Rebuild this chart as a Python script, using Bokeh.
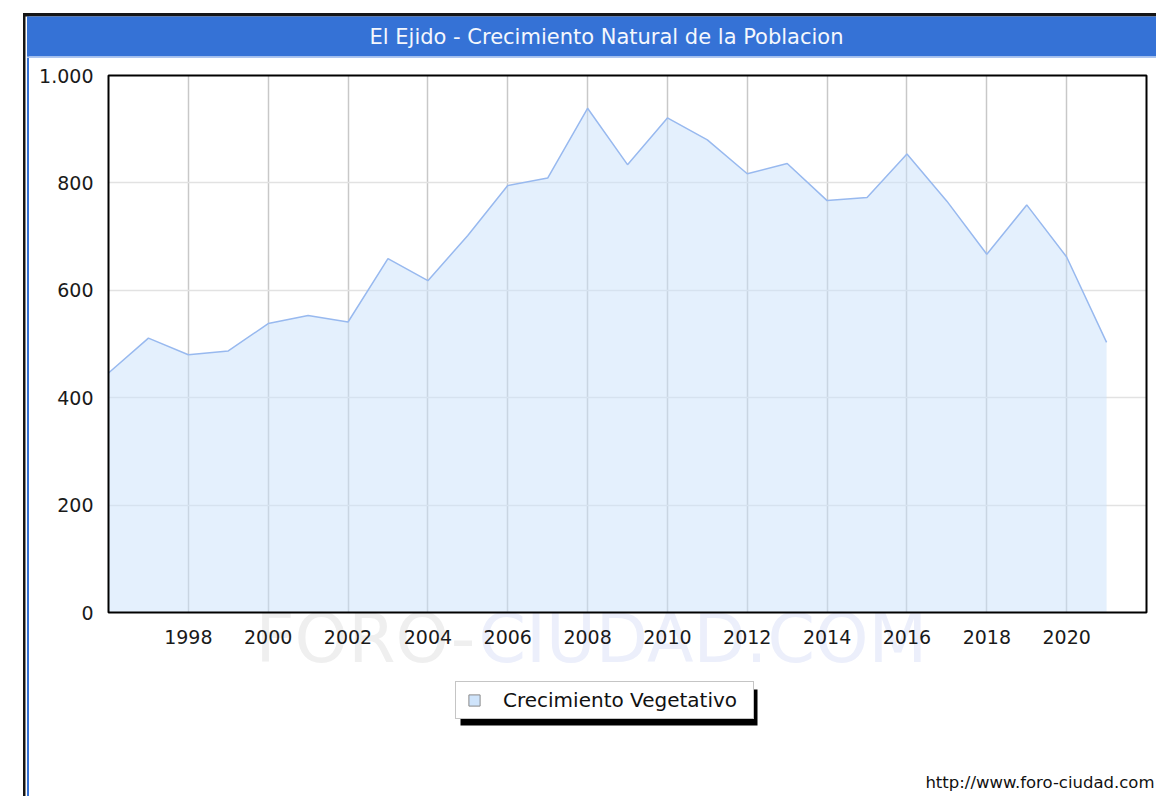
from bokeh.plotting import figure
from bokeh.models import Range1d, FixedTicker, BoxAnnotation, Label, Legend, LegendItem, Grid
from bokeh.embed import file_html
from bokeh.resources import INLINE

# ---------------- data ----------------
title_text = "El Ejido - Crecimiento Natural de la Poblacion"
series_name = "Crecimiento Vegetativo"
watermark_a = "FORO-"
watermark_b = "CIUDAD.COM"
url_text = "http://www.foro-ciudad.com"

years = [1996, 1997, 1998, 1999, 2000, 2001, 2002, 2003, 2004, 2005, 2006, 2007, 2008,
         2009, 2010, 2011, 2012, 2013, 2014, 2015, 2016, 2017, 2018, 2019, 2020, 2021]
values = [446, 511, 480, 487, 538, 553, 541, 659, 618, 702, 795, 809, 939,
          834, 921, 880, 817, 836, 767, 773, 854, 766, 667, 759, 662, 503]

x_ticks = [1998, 2000, 2002, 2004, 2006, 2008, 2010, 2012, 2014, 2016, 2018, 2020]
y_ticks = [0, 200, 400, 600, 800, 1000]
y_tick_labels = ["0", "200", "400", "600", "800", "1.000"]
x_lim = [1996, 2022]
y_lim = [0, 1000]

# ---------------- geometry (pixels) ----------------
W, H = 1156, 796
FL, FR, FT, FB = 108, 1146, 75, 612   # plotting area inside the canvas
FONT = "DejaVu Sans"

kx = (FR - FL) / (x_lim[1] - x_lim[0])
ky = (FB - FT) / (y_lim[1] - y_lim[0])
x_range = Range1d(x_lim[0] - FL / kx, x_lim[1] + (W - FR) / kx)
y_range = Range1d(y_lim[0] - (H - FB) / ky, y_lim[1] + FT / ky)

p = figure(width=W, height=H, output_backend="svg", toolbar_location=None,
           x_range=x_range, y_range=y_range,
           min_border_left=0, min_border_right=0, min_border_top=0, min_border_bottom=0,
           background_fill_color="white", border_fill_color="white",
           outline_line_color=None)

# pixel helper ranges for decorations (image coordinates, y downward)
p.extra_x_ranges = {"px": Range1d(0, W)}
p.extra_y_ranges = {"py": Range1d(H, 0)}

# ---------------- grids ----------------
has_cross = "cross_bounds" in Grid.properties()
if has_cross:
    p.xgrid.ticker = FixedTicker(ticks=x_ticks)
    p.xgrid.cross_bounds = tuple(y_lim)
    p.xgrid.grid_line_color = "#c8c8c8"
    p.xgrid.grid_line_width = 1.5
    p.ygrid.ticker = FixedTicker(ticks=y_ticks[1:-1])
    p.ygrid.cross_bounds = tuple(x_lim)
    p.ygrid.grid_line_color = "#e2e2e2"
    p.ygrid.grid_line_width = 1.5
else:
    p.xgrid.grid_line_color = None
    p.ygrid.grid_line_color = None
    p.segment(x0=x_ticks, x1=x_ticks, y0=y_lim[0], y1=y_lim[1],
              line_color="#c8c8c8", line_width=1.5)
    p.segment(x0=x_lim[0], x1=x_lim[1], y0=y_ticks[1:-1], y1=y_ticks[1:-1],
              line_color="#e2e2e2", line_width=1.5)

# ---------------- data marks ----------------
p.varea(x=years, y1=0, y2=values, fill_color="#cae2fb", fill_alpha=0.5)
p.line(x=years, y=values, line_color="#98b9ef", line_width=1.5)
sq = p.scatter(x=years, y=values, marker="square", size=10, fill_color="#cfe4fb",
               line_color="#8a8a8a", line_width=1, visible=False)

# plot-area outline
p.add_layout(BoxAnnotation(left=x_lim[0], right=x_lim[1], bottom=y_lim[0], top=y_lim[1],
                           fill_alpha=0, line_color="black", line_width=2, line_alpha=1))

# ---------------- axes ----------------
p.xaxis.fixed_location = y_lim[0]
p.yaxis.fixed_location = x_lim[0]
p.xaxis.ticker = FixedTicker(ticks=x_ticks)
p.yaxis.ticker = FixedTicker(ticks=y_ticks)
p.yaxis.major_label_overrides = dict(zip(y_ticks, y_tick_labels))
for ax in (p.xaxis, p.yaxis):
    ax.axis_line_color = None
    ax.major_tick_line_color = None
    ax.minor_tick_line_color = None
    ax.major_tick_out = 0
    ax.major_tick_in = 0
    ax.major_label_text_font = FONT
    ax.major_label_text_font_size = "19px"
    ax.major_label_text_color = "#1a1a1a"
p.xaxis.major_label_standoff = 17
p.yaxis.major_label_standoff = 15


def box(l, r, t, b, color, alpha=1.0):
    return BoxAnnotation(left=l, right=r, top=t, bottom=b,
                         x_range_name="px", y_range_name="py",
                         fill_color=color, fill_alpha=alpha,
                         line_alpha=0, line_width=0)


# ---------------- frame decorations ----------------
p.add_layout(box(22.5, 25, 13, H + 5, "#151515"))
p.add_layout(box(26.5, 28.5, 16, H + 5, "#3572d6"))
p.add_layout(box(22.5, W + 5, 12.5, 16, "#151515"))
p.add_layout(box(26.5, W + 5, 16, 56, "#3572d6"))
p.add_layout(box(26.5, W + 5, 56, 57.5, "#adc6f0"))

p.add_layout(Label(x=606, y=36.5, x_range_name="px", y_range_name="py", text=title_text,
                   text_align="center", text_baseline="middle", text_color="#f4f7fd",
                   text_font=FONT, text_font_size="21px"))

# watermark
p.add_layout(Label(x=255, y=638, x_range_name="px", y_range_name="py", text=watermark_a,
                   text_align="left", text_baseline="middle", text_color="#efefef",
                   text_font=FONT, text_font_size="68px", level="underlay"))
p.add_layout(Label(x=478, y=638, x_range_name="px", y_range_name="py", text=watermark_b,
                   text_align="left", text_baseline="middle", text_color="#eceffb",
                   text_font=FONT, text_font_size="68px", level="underlay"))

# url
p.add_layout(Label(x=1154, y=782, x_range_name="px", y_range_name="py", text=url_text,
                   text_align="right", text_baseline="middle", text_color="#111111",
                   text_font=FONT, text_font_size="16.5px"))

# legend shadow + legend
p.add_layout(box(460, 757, 689, 725, "#000000"))
legend = Legend(items=[LegendItem(label=series_name, renderers=[sq])],
                location=(455, H - 719), orientation="vertical",
                padding=4, margin=0, spacing=0, glyph_width=28, glyph_height=28,
                label_standoff=15, label_width=246,
                label_text_font=FONT, label_text_font_size="20px", label_text_color="#111111",
                border_line_color="#8c8c8c", border_line_width=1,
                background_fill_color="white", background_fill_alpha=1,
                inactive_fill_alpha=0)
p.add_layout(legend, "center")

open("out.html", "w").write(file_html(p, INLINE))
